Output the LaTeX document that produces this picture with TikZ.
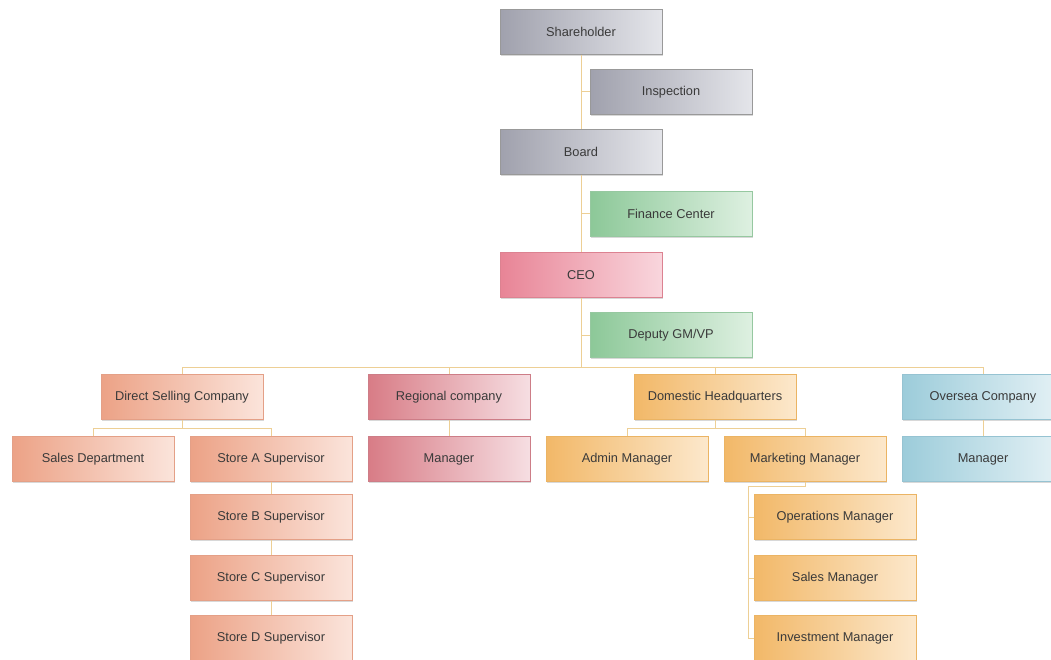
\documentclass[tikz,border=0pt]{standalone}
\usepackage{fontspec}
\setmainfont{Liberation Sans}
\usetikzlibrary{shadows}
\definecolor{lnk}{HTML}{EDCF95}
\definecolor{txt}{HTML}{3A3A3A}
\tikzset{
  box/.style={minimum width=162pt, minimum height=45pt, inner sep=0pt, text=txt,
    font=\fontsize{12.8}{14}\selectfont, line width=0.6pt,
    drop shadow={opacity=0.3, shadow xshift=1.2pt, shadow yshift=-1.5pt}},
  graybox/.style={box, draw=gray!80, left color={rgb,255:red,160;green,161;blue,173}, right color={rgb,255:red,228;green,229;blue,234}},
  greenbox/.style={box, draw={rgb,255:red,150;green,200;blue,160}, left color={rgb,255:red,140;green,200;blue,152}, right color={rgb,255:red,222;green,240;blue,225}},
  pinkbox/.style={box, draw={rgb,255:red,220;green,130;blue,145}, left color={rgb,255:red,232;green,132;blue,150}, right color={rgb,255:red,249;green,214;blue,221}},
  salmonbox/.style={box, draw={rgb,255:red,228;green,160;blue,135}, left color={rgb,255:red,236;green,162;blue,134}, right color={rgb,255:red,251;green,228;blue,219}},
  redbox/.style={box, draw={rgb,255:red,205;green,125;blue,135}, left color={rgb,255:red,216;green,124;blue,134}, right color={rgb,255:red,246;green,222;blue,226}},
  orangebox/.style={box, draw={rgb,255:red,235;green,180;blue,100}, left color={rgb,255:red,242;green,184;blue,104}, right color={rgb,255:red,252;green,232;blue,204}},
  bluebox/.style={box, draw={rgb,255:red,150;green,195;blue,210}, left color={rgb,255:red,156;green,204;blue,218}, right color={rgb,255:red,230;green,242;blue,246}},
  link/.style={draw=lnk, line width=1pt}
}
\begin{document}
\begin{tikzpicture}[x=1pt,y=-1pt]
\clip (0,0) rectangle (1051,660);
\fill[white] (0,0) rectangle (1051,660);

% top column
\node[graybox]  (sh)  at (581,32)  {Shareholder};
\node[graybox]  (ins) at (671,92)  {Inspection};
\node[graybox]  (bd)  at (581,152) {Board};
\node[greenbox] (fc)  at (671,214) {Finance Center};
\node[pinkbox]  (ceo) at (581,275) {CEO};
\node[greenbox] (dgm) at (671,335) {Deputy GM/VP};

% level 2
\node[salmonbox] (ds) at (182,397) {Direct Selling Company};
\node[redbox]    (rc) at (449,397) {Regional company};
\node[orangebox] (dh) at (715,397) {Domestic Headquarters};
\node[bluebox]   (oc) at (983,397) {Oversea Company};

% level 3
\node[salmonbox] (sd)  at (93,459)  {Sales Department};
\node[salmonbox] (sa)  at (271,459) {Store A Supervisor};
\node[redbox]    (rm)  at (449,459) {Manager};
\node[orangebox] (am)  at (627,459) {Admin Manager};
\node[orangebox] (mm)  at (805,459) {Marketing Manager};
\node[bluebox]   (om)  at (983,459) {Manager};

% stores
\node[salmonbox] (sb)  at (271,517) {Store B Supervisor};
\node[salmonbox] (sc)  at (271,578) {Store C Supervisor};
\node[salmonbox] (sdd) at (271,638) {Store D Supervisor};

% marketing subordinates
\node[orangebox] (opm) at (835,517) {Operations Manager};
\node[orangebox] (slm) at (835,578) {Sales Manager};
\node[orangebox] (ivm) at (835,638) {Investment Manager};

% junction coordinates
\coordinate (bus) at (sh.south |- 0,367);
\coordinate (mk) at (748,486);

% connectors
\path[link] (sh.south) -- (bd.north);
\path[link] (bd.south) -- (ceo.north);
\path[link] (ceo.south) -- (bus);
\path[link] (sh.south |- ins.west) -- (ins.west);
\path[link] (sh.south |- fc.west) -- (fc.west);
\path[link] (sh.south |- dgm.west) -- (dgm.west);
\path[link] (ds.north |- bus) -- (oc.north |- bus);
\path[link] (ds.north |- bus) -- (ds.north);
\path[link] (rc.north |- bus) -- (rc.north);
\path[link] (dh.north |- bus) -- (dh.north);
\path[link] (oc.north |- bus) -- (oc.north);
\path[link] (rc.south) -- (rm.north);
\path[link] (oc.south) -- (om.north);
% direct selling group
\path[link] (ds.south) -- (ds.south |- 0,428);
\path[link] (sd.north |- 0,428) -- (sa.north |- 0,428);
\path[link] (sd.north |- 0,428) -- (sd.north);
\path[link] (sa.north |- 0,428) -- (sa.north);
\path[link] (sa.south) -- (sb.north);
\path[link] (sb.south) -- (sc.north);
\path[link] (sc.south) -- (sdd.north);
% domestic group
\path[link] (dh.south) -- (dh.south |- 0,428);
\path[link] (am.north |- 0,428) -- (mm.north |- 0,428);
\path[link] (am.north |- 0,428) -- (am.north);
\path[link] (mm.north |- 0,428) -- (mm.north);
% marketing group
\path[link] (mm.south) -- (mm.south |- mk) -- (mk) -- (mk |- ivm.west) -- (ivm.west);
\path[link] (mk |- opm.west) -- (opm.west);
\path[link] (mk |- slm.west) -- (slm.west);
\end{tikzpicture}
\end{document}
